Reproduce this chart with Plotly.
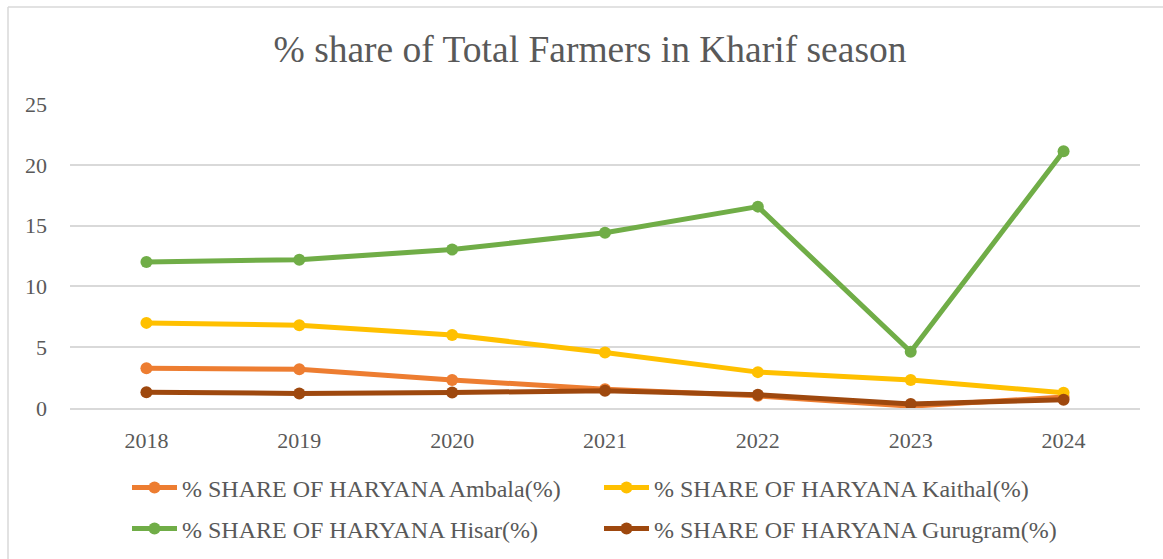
import plotly.graph_objects as go

# Veriler
years = ["2018", "2019", "2020", "2021", "2022", "2023", "2024"]
ambala = [3.26, 3.18, 2.30, 1.55, 1.00, 0.15, 0.90]
kaithal = [7.00, 6.80, 6.00, 4.57, 2.95, 2.30, 1.25]
hisar = [12.01, 12.20, 13.03, 14.42, 16.56, 4.62, 21.12]
gurugram = [1.29, 1.20, 1.27, 1.42, 1.09, 0.33, 0.68]

series = [
    ("% SHARE OF HARYANA Ambala(%)", ambala, "#ED7D31", "legend"),
    ("% SHARE OF HARYANA Kaithal(%)", kaithal, "#FFC000", "legend"),
    ("% SHARE OF HARYANA Hisar(%)", hisar, "#70AD47", "legend2"),
    ("% SHARE OF HARYANA Gurugram(%)", gurugram, "#9E480E", "legend2"),
]

W, H = 1163, 559
L, R, T, B = 70, 23, 104, 151
font_family = "Liberation Serif"
grey = "#595959"

fig = go.Figure()
for name, vals, color, leg in series:
    fig.add_trace(go.Scatter(
        x=years, y=vals, name=name, mode="lines+markers",
        line=dict(color=color, width=5),
        marker=dict(color=color, size=12),
        legend=leg,
    ))

# dış çerçeve (sol ve üst kenar)
pw, ph = W - L - R, H - T - B
x_left = (8 - L) / pw
y_top = 1 + (T - 7) / ph
fig.add_shape(type="line", xref="paper", yref="paper",
              x0=x_left, x1=x_left, y0=-(B + 5) / ph, y1=y_top,
              line=dict(color="#D9D9D9", width=1.5))
fig.add_shape(type="line", xref="paper", yref="paper",
              x0=x_left, x1=1 + (R + 5) / pw, y0=y_top, y1=y_top,
              line=dict(color="#D9D9D9", width=1.5))

leg_common = dict(
    orientation="h", xref="container", yref="container",
    x=127 / W, xanchor="left", yanchor="middle",
    entrywidth=412, entrywidthmode="pixels",
    font=dict(size=24, color=grey, family=font_family),
    itemwidth=45, bgcolor="rgba(0,0,0,0)",
)

fig.update_layout(
    width=W, height=H,
    margin=dict(l=L, r=R, t=T, b=B),
    paper_bgcolor="white", plot_bgcolor="white",
    font=dict(family=font_family, color=grey, size=22),
    title=dict(
        text="% share of Total Farmers in Kharif season",
        x=590 / W, xref="container", xanchor="center",
        y=1 - 49 / H, yref="container", yanchor="middle",
        font=dict(size=37.5, color=grey, family=font_family),
    ),
    xaxis=dict(
        type="category", range=[-0.5, 6.5], showgrid=False,
        showline=True, linecolor="#D9D9D9", linewidth=1.5,
        ticks="", tickfont=dict(size=22), ticklabelstandoff=12,
    ),
    yaxis=dict(
        range=[0, 25], dtick=5, showgrid=True, gridcolor="#D9D9D9",
        gridwidth=1.5, zeroline=False, showline=False, ticks="",
        tickfont=dict(size=22), ticklabelstandoff=22,
    ),
    legend=dict(y=1 - 488 / H, **leg_common),
    legend2=dict(y=1 - 529 / H, **leg_common),
    showlegend=True,
)

fig.write_html("out.html", config={"displayModeBar": False},
               post_script="document.body.style.margin='0';")
